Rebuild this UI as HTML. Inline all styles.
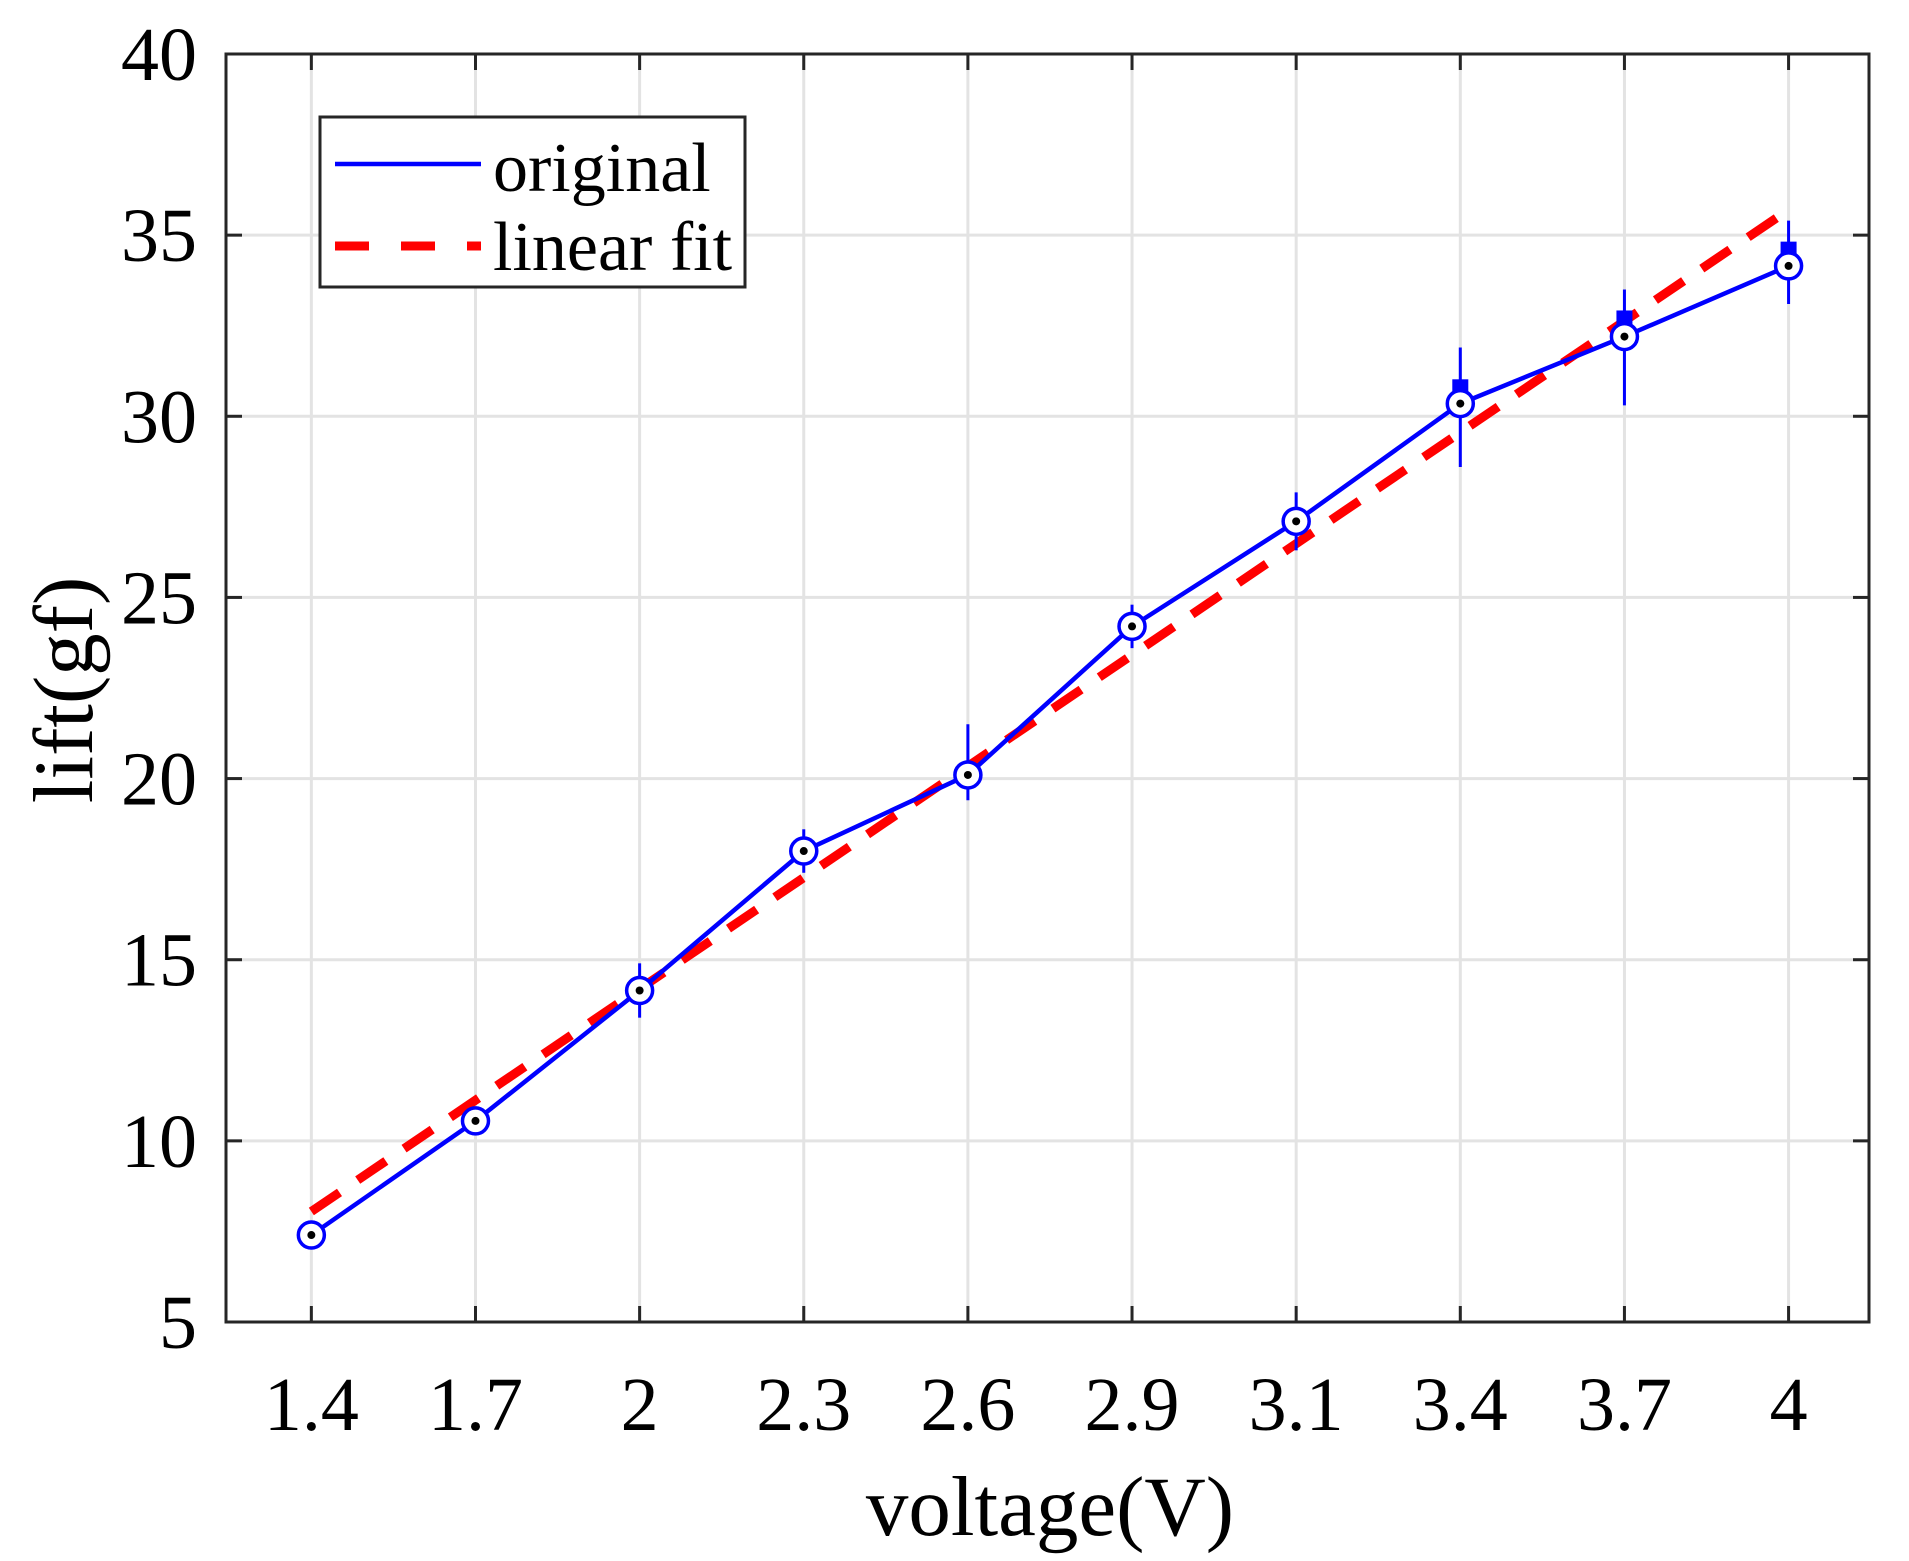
<!DOCTYPE html>
<html><head><meta charset="utf-8"><style>
html,body{margin:0;padding:0;background:#fff;}
svg{display:block;}
text{font-family:"Liberation Serif",serif;fill:#000;}
</style></head><body>
<svg id="chart" width="1909" height="1561" viewBox="0 0 1909 1561" xmlns="http://www.w3.org/2000/svg">
<g id="grid"></g>
<g id="series"></g>
<rect x="226" y="54" width="1643" height="1268" fill="none" stroke="#262626" stroke-width="3"/>
<g id="ticks"></g>
<text x="1050" y="1535" font-size="85" text-anchor="middle">voltage(V)</text>
<text transform="translate(92,690) rotate(-90)" font-size="85" text-anchor="middle">lift(gf)</text>
<g>
<rect x="320" y="117" width="425" height="170" fill="#fff" stroke="#262626" stroke-width="3"/>
<line x1="335" y1="164" x2="481" y2="164" stroke="#0000ff" stroke-width="4.5"/>
<text x="493" y="191" font-size="70">original</text>
<line x1="335" y1="246" x2="481" y2="246" stroke="#ff0000" stroke-width="9" stroke-dasharray="34,32"/>
<text x="493" y="270" font-size="70">linear fit</text>
</g>
</svg>
<script>
const categories = ["1.4","1.7","2","2.3","2.6","2.9","3.1","3.4","3.7","4"];
const liftValues = [7.4,10.55,14.15,18.0,20.1,24.2,27.1,30.35,32.2,34.15];
const errUpper = [7.6,10.8,14.9,18.6,21.5,24.8,27.9,31.9,33.5,35.4];
const errLower = [7.2,10.3,13.4,17.4,19.4,23.6,26.3,28.6,30.3,33.1];
const squareValues = [null,null,null,null,null,null,null,30.8,32.7,34.6];
const fitStart = 8.05;
const fitEnd = 35.7;
const yTicks = [5,10,15,20,25,30,35,40];

const NS="http://www.w3.org/2000/svg";
const L=226,R=1869,T=54,B=1322;
const xMin=-0.52,xMax=9.49,yMin=5,yMax=40;
function xs(i){return L+(i-xMin)/(xMax-xMin)*(R-L);}
function ys(v){return B-(v-yMin)/(yMax-yMin)*(B-T);}
function mk(tag,attrs,parent){const e=document.createElementNS(NS,tag);for(const k in attrs)e.setAttribute(k,attrs[k]);parent.appendChild(e);return e;}
const grid=document.getElementById('grid'),ticks=document.getElementById('ticks'),series=document.getElementById('series');

categories.forEach((c,i)=>{
  const x=xs(i);
  const g=mk('line',{x1:x,y1:T,x2:x,y2:B,stroke:'#e3e3e3','stroke-width':3},grid);
  
  
  const t1=mk('line',{x1:x,y1:B,x2:x,y2:B-16,stroke:'#262626','stroke-width':3},ticks);
  
  
  const t2=mk('line',{x1:x,y1:T,x2:x,y2:T+16,stroke:'#262626','stroke-width':3},ticks);
  
  
  const lb=mk('text',{x:x,y:1430,'font-size':76,'text-anchor':'middle'},ticks);
  lb.textContent=c;
  
  
});
yTicks.forEach(v=>{
  const y=ys(v);
  const g=mk('line',{x1:L,y1:y,x2:R,y2:y,stroke:'#e3e3e3','stroke-width':3},grid);
  
  
  const t1=mk('line',{x1:L,y1:y,x2:L+16,y2:y,stroke:'#262626','stroke-width':3},ticks);
  
  
  const t2=mk('line',{x1:R,y1:y,x2:R-16,y2:y,stroke:'#262626','stroke-width':3},ticks);
  
  
  const lb=mk('text',{x:197,y:y+26,'font-size':76,'text-anchor':'end'},ticks);
  lb.textContent=String(v);
  
  
});
const n=categories.length;
const fit=mk('line',{x1:xs(0),y1:ys(fitStart),x2:xs(n-1),y2:ys(fitEnd),stroke:'#ff0000','stroke-width':9,'stroke-dasharray':'34,22'},series);


categories.forEach((c,i)=>{
  const e=mk('line',{x1:xs(i),y1:ys(errUpper[i]),x2:xs(i),y2:ys(errLower[i]),stroke:'#0000ff','stroke-width':3},series);
  
  
  if(squareValues[i]!==null){
    const s=mk('rect',{x:xs(i)-8,y:ys(squareValues[i])-8,width:16,height:16,fill:'#0000ff'},series);
    
    
  }
});
const pts=liftValues.map((v,i)=>xs(i)+','+ys(v)).join(' ');
const pl=mk('polyline',{points:pts,fill:'none',stroke:'#0000ff','stroke-width':4.5},series);


liftValues.forEach((v,i)=>{
  const c=mk('circle',{cx:xs(i),cy:ys(v),r:13,fill:'#fff',stroke:'#0000ff','stroke-width':3.5},series);
  
  
  const d=mk('circle',{cx:xs(i),cy:ys(v),r:4,fill:'#000'},series);
  
  
});
</script>
</body></html>
